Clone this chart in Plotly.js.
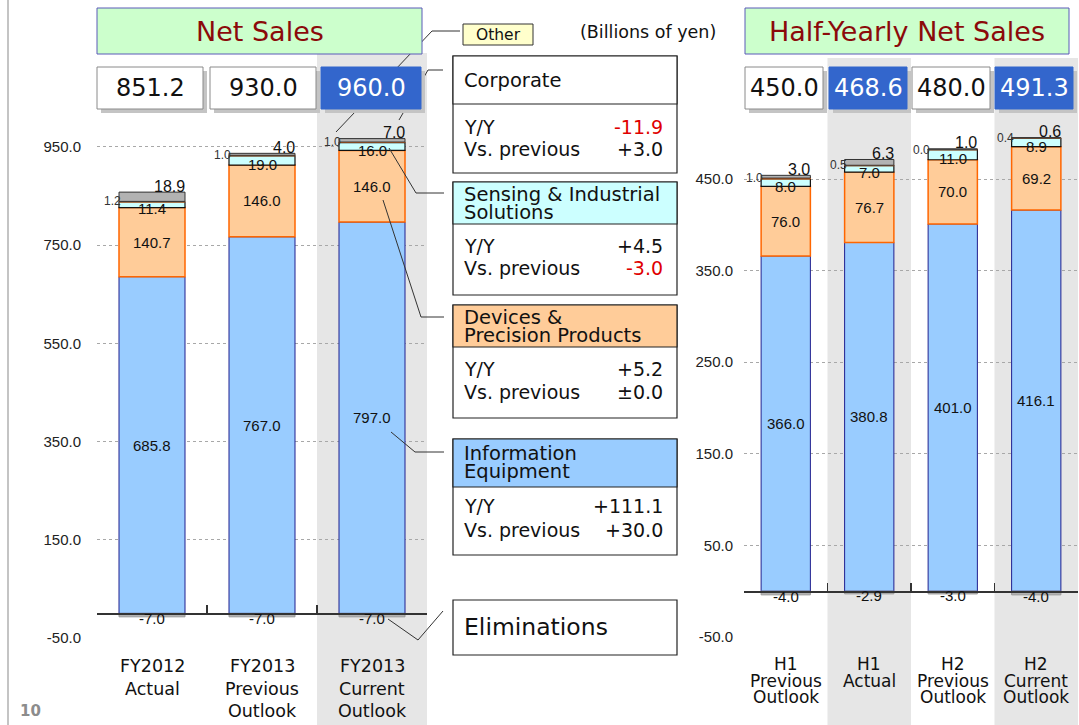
<!DOCTYPE html>
<html>
<head>
<meta charset="utf-8">
<script src="https://cdn.plot.ly/plotly-3.0.1.min.js"></script>
<style>html,body{margin:0;padding:0;background:#fff;}#chart{width:1079px;height:725px;}</style>
</head>
<body>
<div id="chart"></div>
<script>
// ---------------- DATA ----------------
const fyCats = ['FY2012 Actual', 'FY2013 Previous Outlook', 'FY2013 Current Outlook'];
const fyLabelLines = [['FY2012', 'Actual'], ['FY2013', 'Previous', 'Outlook'], ['FY2013', 'Current', 'Outlook']];
const fyInfo = [685.8, 767.0, 797.0];
const fyDevices = [140.7, 146.0, 146.0];
const fySensing = [11.4, 19.0, 16.0];
const fyCorporate = [1.2, 1.0, 1.0];
const fyOther = [18.9, 4.0, 7.0];
const fyElim = [-7.0, -7.0, -7.0];
const fyTotal = [851.2, 930.0, 960.0];
const fyHighlight = [false, false, true];

const hCats = ['H1 Previous Outlook', 'H1 Actual', 'H2 Previous Outlook', 'H2 Current Outlook'];
const hLabelLines = [['H1', 'Previous', 'Outlook'], ['H1', 'Actual'], ['H2', 'Previous', 'Outlook'], ['H2', 'Current', 'Outlook']];
const hInfo = [366.0, 380.8, 401.0, 416.1];
const hDevices = [76.0, 76.7, 70.0, 69.2];
const hSensing = [8.0, 7.0, 11.0, 8.9];
const hCorporate = [1.0, 0.5, 0.0, 0.4];
const hOther = [3.0, 6.3, 1.0, 0.6];
const hElim = [-4.0, -2.9, -3.0, -4.0];
const hTotal = [450.0, 468.6, 480.0, 491.3];
const hHighlight = [false, true, false, true];

const fyTicks = [-50, 150, 350, 550, 750, 950];
const hTicks = [-50, 50, 150, 250, 350, 450];

const segTitles = [['Corporate'], ['Sensing & Industrial', 'Solutions'], ['Devices &', 'Precision Products'], ['Information', 'Equipment']];
const segYY = ['-11.9', '+4.5', '+5.2', '+111.1'];
const segVsPrev = ['+3.0', '-3.0', '\u00b10.0', '+30.0'];

const titleLeft = 'Net Sales';
const titleRight = 'Half-Yearly Net Sales';
const unitText = '(Billions of yen)';
const otherText = 'Other';
const elimText = 'Eliminations';
const pageNo = '10';

// ---------------- LAYOUT HELPERS ----------------
const W = 1079, H = 725;
const X = p => p / W;
const Y = p => 1 - p / H;
const FONT_BOX = 'DejaVu Sans, Verdana, sans-serif';
const FONT_NUM = 'Liberation Sans, Arial, sans-serif';
const shapes = [];
const annotations = [];

function ann(o) {
  annotations.push(Object.assign({showarrow: false, xref: 'paper', yref: 'paper', borderpad: 0, xanchor: 'center', yanchor: 'middle'}, o));
}
function rect(x0, y0, x1, y1, fill, line, lw, layer) {
  shapes.push({type: 'rect', xref: 'paper', yref: 'paper', x0: X(x0), x1: X(x1), y0: Y(y1), y1: Y(y0),
    fillcolor: fill, line: {color: line, width: lw === undefined ? 1 : lw}, layer: layer || 'above'});
}
function poly(pts, color, w) {
  const d = pts.map((p, i) => (i ? 'L' : 'M') + X(p[0]) + ',' + Y(p[1])).join(' ');
  shapes.push({type: 'path', xref: 'paper', yref: 'paper', path: d, line: {color: color || '#333', width: w || 1}, layer: 'above'});
}

// ---------------- TRACES ----------------
const traces = [];
function addBars(cats, vals, fill, lineColor, lw, xa, ya, width) {
  traces.push({type: 'bar', x: cats, y: vals, xaxis: xa, yaxis: ya, width: width,
    marker: {color: fill, line: {color: lineColor, width: lw}}, hoverinfo: 'skip', showlegend: false});
}
function addSeries(cats, info, dev, sens, corp, other, elim, xa, ya, width) {
  addBars(cats, info, '#99CCFF', '#1F1F8F', 1, xa, ya, width);
  addBars(cats, dev, '#FFCC99', '#FF6600', 1.5, xa, ya, width);
  addBars(cats, sens, '#CCFFFF', '#111111', 1.2, xa, ya, width);
  addBars(cats, corp, '#FF6600', '#E06010', 1, xa, ya, width);
  addBars(cats, other, '#B2B2B2', '#333333', 1, xa, ya, width);
  addBars(cats, elim, '#B2B2B2', '#999999', 1, xa, ya, width);
}
const fyW = 0.6, hW = 0.59;
addSeries(fyCats, fyInfo, fyDevices, fySensing, fyCorporate, fyOther, fyElim, 'x', 'y', fyW);
addSeries(hCats, hInfo, hDevices, hSensing, hCorporate, hOther, hElim, 'x2', 'y2', hW);

// bar value labels
function addLabels(n, info, dev, sens, corp, other, elim, xa, ya, w, fs) {
  for (let i = 0; i < n; i++) {
    const base = {showarrow: false, xref: xa, yref: ya, borderpad: 0, xanchor: 'center', yanchor: 'middle'};
    const f = s => ({family: FONT_NUM, size: s, color: '#111'});
    const s1 = info[i] + dev[i];
    const s2 = s1 + sens[i];
    const s3 = s2 + corp[i];
    const s4 = s3 + other[i];
    annotations.push(Object.assign({}, base, {x: i, y: info[i] / 2, text: info[i].toFixed(1), font: f(fs)}));
    annotations.push(Object.assign({}, base, {x: i, y: info[i] + dev[i] / 2, text: dev[i].toFixed(1), font: f(fs)}));
    annotations.push(Object.assign({}, base, {x: i, y: s1 + sens[i] / 2, yshift: -4, text: sens[i].toFixed(1), font: f(fs)}));
    annotations.push(Object.assign({}, base, {x: i - w / 2, xanchor: 'right', xshift: 3, y: s3, text: corp[i].toFixed(1), font: {family: FONT_NUM, size: 12, color: '#333'}}));
    annotations.push(Object.assign({}, base, {x: i + w / 2, xanchor: 'right', xshift: 1, y: s4, yshift: 6, text: other[i].toFixed(1), font: f(16)}));
    annotations.push(Object.assign({}, base, {x: i, y: elim[i], yshift: -2, text: elim[i].toFixed(1), font: f(15)}));
  }
}
addLabels(fyCats.length, fyInfo, fyDevices, fySensing, fyCorporate, fyOther, fyElim, 'x', 'y', fyW, 15);
addLabels(hCats.length, hInfo, hDevices, hSensing, hCorporate, hOther, hElim, 'x2', 'y2', hW, 15);

// category labels (one annotation per line)
fyLabelLines.forEach((lines, i) => {
  lines.forEach((t, j) => annotations.push({showarrow: false, xref: 'x', yref: 'paper', x: i, y: Y(666 + j * 22.5),
    xanchor: 'center', yanchor: 'middle', text: t, font: {family: FONT_BOX, size: 17.5, color: '#111'}, borderpad: 0}));
});
hLabelLines.forEach((lines, i) => {
  lines.forEach((t, j) => annotations.push({showarrow: false, xref: 'x2', yref: 'paper', x: i, y: Y(664 + j * 16.5),
    xanchor: 'center', yanchor: 'middle', text: t, font: {family: FONT_BOX, size: 17, color: '#111'}, borderpad: 0}));
});

// highlight bands
fyHighlight.forEach((h, i) => { if (h) shapes.push({type: 'rect', xref: 'x', yref: 'paper', x0: i - 0.5, x1: i + 0.5, y0: 0, y1: Y(53), fillcolor: '#E6E6E6', line: {width: 0}, layer: 'below'}); });
hHighlight.forEach((h, i) => { if (h) shapes.push({type: 'rect', xref: 'x2', yref: 'paper', x0: i - 0.5, x1: i + 0.5, y0: 0, y1: Y(58), fillcolor: '#E6E6E6', line: {width: 0}, layer: 'below'}); });

// page border + page number
shapes.push({type: 'line', xref: 'paper', yref: 'paper', x0: X(8), x1: X(8), y0: 0, y1: 1, line: {color: '#B0B0B0', width: 1.5}, layer: 'above'});
ann({x: X(31), y: Y(711), text: '<b>' + pageNo + '</b>', font: {family: FONT_BOX, size: 15, color: '#8C8C8C'}});

// connector lines (drawn before boxes so boxes cover them)
poly([[460, 31], [432, 31], [336, 132]]);
poly([[443, 70], [428, 70], [399, 120]]);
poly([[389, 148], [416, 193], [444, 193]]);
poly([[383, 200], [421, 317], [444, 317]]);
poly([[391, 432], [415, 452], [444, 452]]);
poly([[388, 619], [418, 640], [443, 611]]);

// title boxes
rect(97, 8, 422, 54, '#CCFFCC', '#5B5BB8', 1);
ann({x: X(259.5), y: Y(31), text: titleLeft, font: {family: FONT_BOX, size: 27, color: '#8B0A0A'}});
rect(745, 8, 1069, 54, '#CCFFCC', '#5B5BB8', 1);
ann({x: X(907), y: Y(31), text: titleRight, font: {family: FONT_BOX, size: 27, color: '#8B0A0A'}});

// total boxes
const fyBoxX = [[97, 203], [210, 316], [321, 421]];
const hBoxX = [[745, 823], [829, 907], [912, 990], [995, 1073]];
function totalBoxes(pos, totals, hl) {
  pos.forEach((p, i) => {
    rect(p[0] + 4, 71, p[1] + 4, 113, '#C4C4C4', 'rgba(0,0,0,0)', 0);
    rect(p[0], 67, p[1], 109, hl[i] ? '#3366CC' : '#FFFFFF', hl[i] ? '#3366CC' : '#8A8A8A', 1);
    ann({x: X((p[0] + p[1]) / 2), y: Y(88), text: totals[i].toFixed(1), font: {family: FONT_BOX, size: 24, color: hl[i] ? '#FFFFFF' : '#111'}});
  });
}
totalBoxes(fyBoxX, fyTotal, fyHighlight);
totalBoxes(hBoxX, hTotal, hHighlight);

// middle panel
rect(463, 24, 533, 45, '#FFFFCC', '#333', 1);
ann({x: X(498), y: Y(35), text: otherText, font: {family: FONT_BOX, size: 15.5, color: '#111'}});
ann({x: X(717), xanchor: 'right', y: Y(32), text: unitText, font: {family: FONT_BOX, size: 17.5, color: '#111'}});

const segBox = [
  {top: 56, div: 104, bot: 173, fill: '#FFFFFF', head: [80], rows: [127, 149]},
  {top: 182, div: 224, bot: 295, fill: '#CCFFFF', head: [194, 212], rows: [246, 268]},
  {top: 305, div: 347, bot: 418, fill: '#FFCC99', head: [317, 335], rows: [369, 392]},
  {top: 439, div: 487, bot: 555, fill: '#99CCFF', head: [453, 472], rows: [506, 530]}
];
segBox.forEach((b, k) => {
  rect(453, b.top, 677, b.bot, '#FFFFFF', '#222', 1.2);
  rect(453, b.top, 677, b.div, b.fill, '#222', 1.2);
  segTitles[k].forEach((t, j) => ann({x: X(463), xanchor: 'left', y: Y(b.head[j]), text: t, font: {family: FONT_BOX, size: 19.5, color: '#111'}}));
  ann({x: X(463), xanchor: 'left', y: Y(b.rows[0]), text: 'Y/Y', font: {family: FONT_BOX, size: 19, color: '#111'}});
  ann({x: X(463), xanchor: 'left', y: Y(b.rows[1]), text: 'Vs. previous', font: {family: FONT_BOX, size: 19, color: '#111'}});
  const c1 = segYY[k].charAt(0) === '-' ? '#E00000' : '#111';
  const c2 = segVsPrev[k].charAt(0) === '-' ? '#E00000' : '#111';
  ann({x: X(664), xanchor: 'right', y: Y(b.rows[0]), text: segYY[k], font: {family: FONT_BOX, size: 19, color: c1}});
  ann({x: X(664), xanchor: 'right', y: Y(b.rows[1]), text: segVsPrev[k], font: {family: FONT_BOX, size: 19, color: c2}});
});
rect(453, 600, 677, 655, '#FFFFFF', '#222', 1.2);
ann({x: X(463), xanchor: 'left', y: Y(627), text: elimText, font: {family: FONT_BOX, size: 23.5, color: '#111'}});

// ---------------- AXES ----------------
const yAxisBase = {
  tickmode: 'array', showgrid: true, gridcolor: '#A8A8A8', griddash: 'dot', gridwidth: 1,
  zeroline: false, showline: false, ticks: 'outside', tickcolor: 'rgba(0,0,0,0)',
  tickfont: {family: FONT_NUM, size: 15, color: '#222'}, fixedrange: true
};
const xAxisBase = {
  type: 'category', showgrid: false, showticklabels: false, showline: true, linecolor: '#333', linewidth: 1.5,
  ticks: 'inside', tickson: 'boundaries', ticklen: 8, tickcolor: '#333', tickwidth: 1.2, anchor: 'free', fixedrange: true
};
const fyZeroPx = 613.4, fyScale = 0.491;
const hZeroPx = 591.2, hScale = 0.916;
const topPx = 118;
const layout = {
  width: W, height: H, margin: {l: 0, r: 0, t: 0, b: 0}, paper_bgcolor: '#FFFFFF', plot_bgcolor: 'rgba(0,0,0,0)',
  barmode: 'relative', showlegend: false,
  xaxis: Object.assign({}, xAxisBase, {domain: [X(97), X(427)], position: Y(fyZeroPx), range: [-0.5, fyCats.length - 0.5]}),
  yaxis: Object.assign({}, yAxisBase, {domain: [Y(638), Y(topPx)], tickvals: fyTicks, ticktext: fyTicks.map(v => v.toFixed(1)), ticklen: 12,
    range: [-(638 - fyZeroPx) / fyScale, (fyZeroPx - topPx) / fyScale]}),
  xaxis2: Object.assign({}, xAxisBase, {domain: [X(744), X(1078)], position: Y(hZeroPx), range: [-0.5, hCats.length - 0.5]}),
  yaxis2: Object.assign({}, yAxisBase, {anchor: 'x2', domain: [Y(637), Y(topPx)], tickvals: hTicks, ticktext: hTicks.map(v => v.toFixed(1)), ticklen: 7,
    range: [-(637 - hZeroPx) / hScale, (hZeroPx - topPx) / hScale]}),
  shapes: shapes, annotations: annotations
};
Plotly.newPlot('chart', traces, layout, {displayModeBar: false, staticPlot: true});
</script>
</body>
</html>
